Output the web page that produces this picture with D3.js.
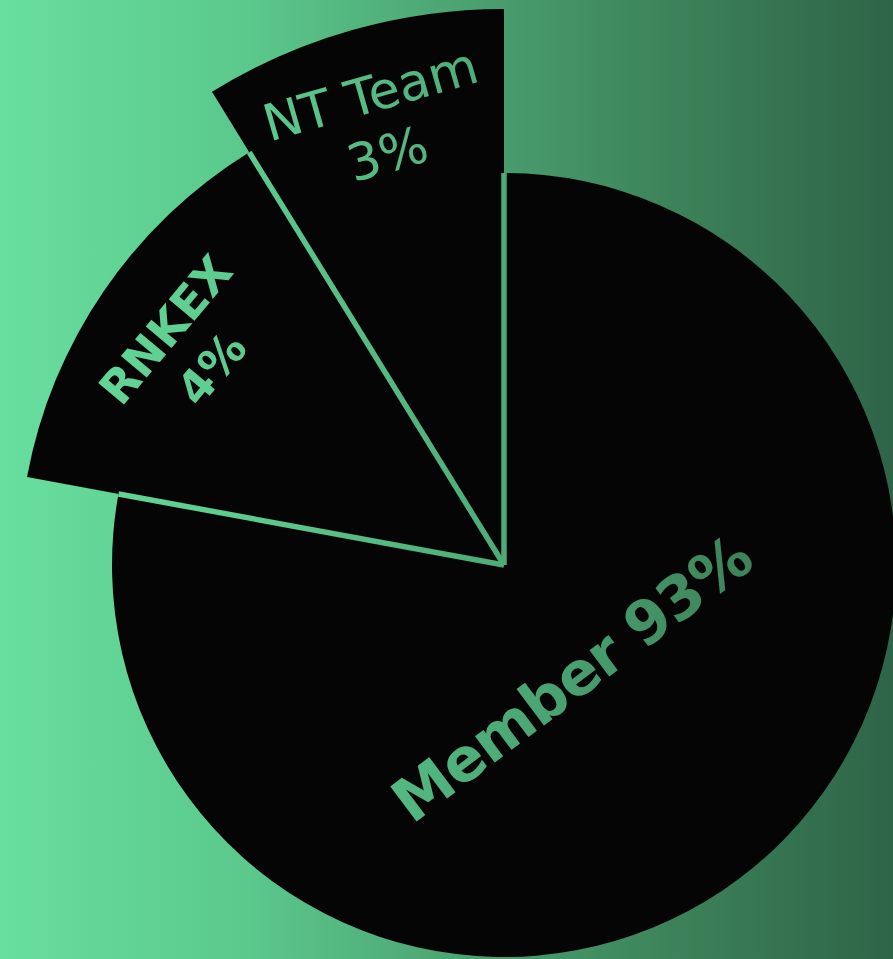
<!DOCTYPE html>
<html>
<head>
<meta charset="utf-8">
<script src="https://cdn.jsdelivr.net/npm/d3@7"></script>
<style>
  html, body { margin: 0; padding: 0; overflow: hidden; }
</style>
</head>
<body>
<div id="pie"></div>
<script>
// Data
const categories = ["Member", "RNKEX", "NT Team"];
// share of the circle each slice takes in the drawing
const sliceShares = [77.9, 13.3, 8.8];
// percentages printed on the slices
const percentLabels = ["93%", "4%", "3%"];

// Setup layout
const svgWidth = 893;
const svgHeight = 959;
const center = { x: 504, y: 565 };

// each slice reaches out a different distance
const outerRadius = d3.scaleOrdinal()
  .domain(categories)
  .range([392, 485, 556]);

// label placement per slice: radius, angle offset from the bisector, rotation, font
const labelLayout = {
  "Member":  { r: 132, offset: 9, rotate: -37, size: 60, weight: "bold", spacing: -1, lineGap: 0, oneLine: true },
  "RNKEX":   { r: 382, offset: 0, rotate: -50, size: 46, weight: "bold", spacing: 0, lineGap: 60, oneLine: false },
  "NT Team": { r: 458, offset: 0, rotate: -16, size: 51, weight: "normal", spacing: 0, lineGap: 62, oneLine: false }
};

const svg = d3
  .select("#pie")
  .append("svg")
  .attr("width", svgWidth)
  .attr("height", svgHeight);

// Background gradient and a brighter copy for the text and gaps
const defs = svg.append("defs");

function addGradient(id, stops) {
  const grad = defs.append("linearGradient")
    .attr("id", id)
    .attr("gradientUnits", "userSpaceOnUse")
    .attr("x1", 0).attr("y1", 0)
    .attr("x2", svgWidth).attr("y2", 0);
  grad.selectAll("stop")
    .data(stops)
    .enter()
    .append("stop")
    .attr("offset", d => d[0])
    .attr("stop-color", d => d[1]);
}

addGradient("bg", [[0, "#68df9e"], [0.28, "#5bc88c"], [0.56, "#489c6d"], [0.78, "#3b7f57"], [1, "#2e6448"]]);
addGradient("ink", [[0, "#66dc9c"], [0.28, "#5dca8e"], [0.56, "#4dab78"], [0.78, "#408a5f"], [1, "#346f4f"]]);

svg.append("rect")
  .attr("width", svgWidth)
  .attr("height", svgHeight)
  .attr("fill", "url(#bg)");

const chartGroup = svg.append("g")
  .attr("transform", `translate(${center.x}, ${center.y})`);

const rows = categories.map((c, i) => ({ name: c, share: sliceShares[i], pct: percentLabels[i] }));

const pie = d3.pie()
  .sort(null)
  .value(d => d.share);

const arcs = pie(rows);

const arc = d3.arc()
  .innerRadius(0)
  .outerRadius(d => outerRadius(d.data.name));

// slices
chartGroup.selectAll("path.slice")
  .data(arcs)
  .enter()
  .append("path")
  .attr("class", "slice")
  .attr("d", arc)
  .attr("fill", "#050505");

// gaps and labels go into a mask, so the page-wide gradient shows through them
const inkMask = defs.append("mask")
  .attr("id", "inkMask")
  .attr("maskUnits", "userSpaceOnUse")
  .attr("x", 0).attr("y", 0)
  .attr("width", svgWidth).attr("height", svgHeight);

const maskGroup = inkMask.append("g")
  .attr("transform", `translate(${center.x}, ${center.y})`);

// gap lines between neighbouring slices, as long as the shorter of the two
const gaps = arcs.map((a, i) => {
  const prev = arcs[(i - 1 + arcs.length) % arcs.length];
  return {
    angle: a.startAngle,
    length: Math.min(outerRadius(a.data.name), outerRadius(prev.data.name))
  };
});

maskGroup.selectAll("line.gap")
  .data(gaps)
  .enter()
  .append("line")
  .attr("class", "gap")
  .attr("x1", 0)
  .attr("y1", 0)
  .attr("x2", d => d3.pointRadial(d.angle, d.length)[0])
  .attr("y2", d => d3.pointRadial(d.angle, d.length)[1])
  .attr("stroke", "white")
  .attr("stroke-width", 5.5)
  .attr("stroke-linecap", "butt");

// labels
const labelGroups = maskGroup.selectAll("g.label")
  .data(arcs)
  .enter()
  .append("g")
  .attr("class", "label")
  .attr("transform", d => {
    const lay = labelLayout[d.data.name];
    const mid = (d.startAngle + d.endAngle) / 2 + lay.offset * Math.PI / 180;
    const p = d3.pointRadial(mid, lay.r);
    return `translate(${p[0]}, ${p[1]}) rotate(${lay.rotate})`;
  });

labelGroups.each(function(d) {
  const lay = labelLayout[d.data.name];
  const g = d3.select(this);
  const lines = lay.oneLine ? [`${d.data.name} ${d.data.pct}`] : [d.data.name, d.data.pct];
  g.selectAll("text")
    .data(lines)
    .enter()
    .append("text")
    .attr("x", 0)
    .attr("y", (t, i) => (i - (lines.length - 1) / 2) * lay.lineGap)
    .attr("text-anchor", "middle")
    .attr("dominant-baseline", "central")
    .attr("font-family", "'DejaVu Sans', sans-serif")
    .attr("font-size", lay.size)
    .attr("font-weight", lay.weight)
    .attr("letter-spacing", lay.spacing)
    .attr("fill", "white")
    .text(t => t);
});

// paint the brighter gradient through the mask
svg.append("rect")
  .attr("width", svgWidth)
  .attr("height", svgHeight)
  .attr("fill", "url(#ink)")
  .attr("mask", "url(#inkMask)");
</script>
</body>
</html>
